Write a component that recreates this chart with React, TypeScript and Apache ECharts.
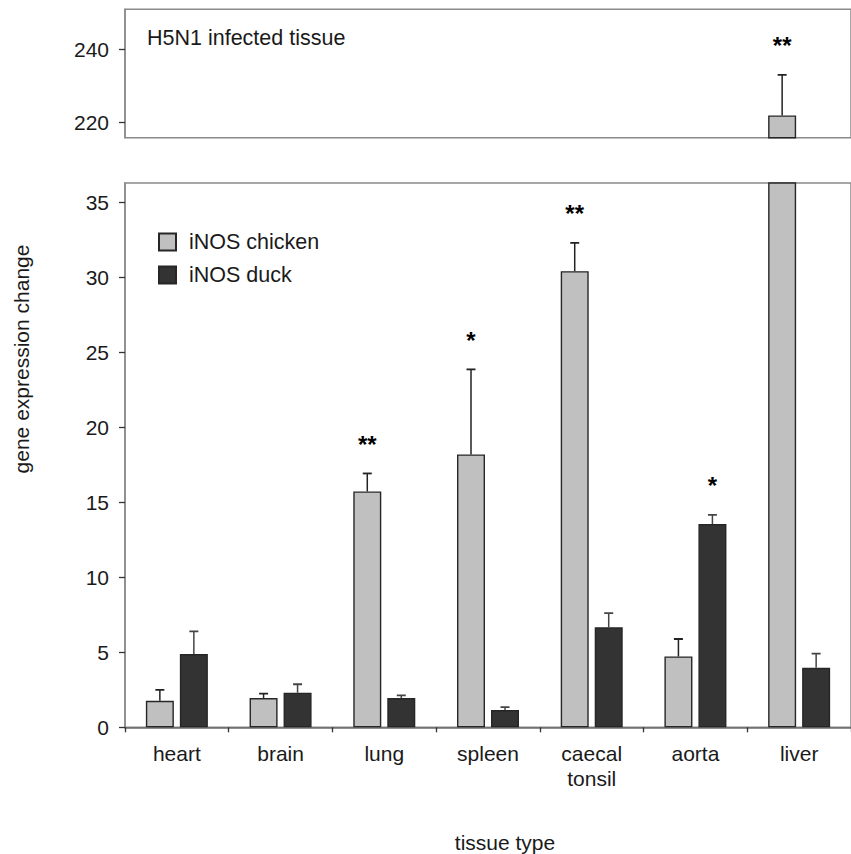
import React, { useEffect, useRef } from 'react';
import * as echarts from 'echarts';

const categories = ['heart', 'brain', 'lung', 'spleen', 'caecal\ntonsil', 'aorta', 'liver'];
const chickenMean = [1.77, 1.95, 15.73, 18.2, 30.42, 4.73, 221.9];
const chickenErrTop = [2.49, 2.24, 16.93, 23.87, 32.31, 5.89, 233.0];
const duckMean = [4.89, 2.31, 1.95, 1.15, 6.67, 13.55, 3.97];
const duckErrTop = [6.4, 2.87, 2.13, 1.35, 7.62, 14.17, 4.91];
const chickenSig = ['', '', '**', '*', '**', '', '**'];
const duckSig = ['', '', '', '', '', '*', ''];
const lowerTicks = [0, 5, 10, 15, 20, 25, 30, 35];
const upperTicks = [220, 240];

const FONT = 'Arial, "Liberation Sans", sans-serif';
const BAR_W = 28;
const BAR_GAP = 6;
const TEXT = '#1a1a1a';
const FRAME = '#8a8a8a';

function errSeries(grid: number, means: number[], tops: number[], sig: string[], offset: number, color: string) {
  return {
    type: 'custom',
    xAxisIndex: grid,
    yAxisIndex: grid,
    clip: true,
    z: 5,
    data: means.map((m, i) => [i, m, tops[i]]),
    renderItem: (params: any, api: any) => {
      const cs = params.coordSys;
      const i = api.value(0);
      const base = api.coord([i, api.value(1)]);
      const tp = api.coord([i, api.value(2)]);
      if (tp[1] < cs.y || tp[1] > cs.y + cs.height) return null;
      const x = base[0] + offset;
      const y1 = Math.min(base[1], cs.y + cs.height);
      const children: any[] = [
        { type: 'line', shape: { x1: x, y1, x2: x, y2: tp[1] }, style: { stroke: color, lineWidth: 1.5 } },
        { type: 'line', shape: { x1: x - 4.5, y1: tp[1], x2: x + 4.5, y2: tp[1] }, style: { stroke: color, lineWidth: 1.8 } },
      ];
      const s = sig[params.dataIndex];
      if (s) {
        children.push({
          type: 'text',
          x,
          y: tp[1] - 29,
          style: { text: s, fill: '#000', font: `bold 24px ${FONT}`, align: 'center', verticalAlign: 'middle' },
        });
      }
      return { type: 'group', children };
    },
  };
}

function barSeries(grid: number, name: string, data: number[], color: string) {
  return {
    type: 'bar',
    name,
    xAxisIndex: grid,
    yAxisIndex: grid,
    data,
    barWidth: BAR_W,
    barGap: `${(BAR_GAP / BAR_W) * 100}%`,
    clip: true,
    itemStyle: { color, borderColor: '#262626', borderWidth: 1.4 },
  };
}

export default function App() {
  const ref = useRef<HTMLDivElement>(null);
  useEffect(() => {
    document.body.style.margin = '0';
    const chart = echarts.init(ref.current!, undefined, { renderer: 'svg' });
    const off = (BAR_W + BAR_GAP) / 2;
    const yLabel = { fontSize: 21, color: TEXT, fontFamily: FONT, margin: 16 };
    const yTick = { show: true, length: 6, lineStyle: { color: '#333', width: 1.3 } };
    const axisLine = { show: true, lineStyle: { color: FRAME, width: 1.5 } };
    const series: any[] = [];
    [0, 1].forEach((g) => {
      series.push(barSeries(g, 'iNOS chicken', chickenMean, '#c0c0c0'));
      series.push(barSeries(g, 'iNOS duck', duckMean, '#333333'));
      series.push(errSeries(g, chickenMean, chickenErrTop, chickenSig, -off, '#222'));
      series.push(errSeries(g, duckMean, duckErrTop, duckSig, off, '#444'));
    });
    chart.setOption({
      animation: false,
      backgroundColor: '#fff',
      textStyle: { fontFamily: FONT },
      grid: [
        { left: 125, top: 9.3, width: 735, height: 128.4, show: true, borderColor: FRAME, borderWidth: 1.5, backgroundColor: 'transparent' },
        { left: 125, top: 183, width: 735, height: 544.3, show: true, borderColor: FRAME, borderWidth: 1.5, backgroundColor: 'transparent' },
      ],
      xAxis: [
        { type: 'category', gridIndex: 0, data: categories, show: false },
        {
          type: 'category',
          gridIndex: 1,
          data: categories,
          axisLine: { show: true, lineStyle: { color: '#6a6a6a', width: 1.5 } },
          axisTick: { show: true, alignWithLabel: false, length: 5, lineStyle: { color: '#333', width: 1.3 } },
          axisLabel: { fontSize: 21, lineHeight: 25, color: TEXT, fontFamily: FONT, margin: 14, interval: 0 },
          splitLine: { show: false },
        },
      ],
      yAxis: [
        {
          type: 'value',
          gridIndex: 0,
          min: 215.8,
          max: 251,
          axisLine,
          axisTick: { ...yTick, customValues: upperTicks },
          axisLabel: { ...yLabel, customValues: upperTicks },
          splitLine: { show: false },
        },
        {
          type: 'value',
          gridIndex: 1,
          min: 0,
          max: 36.3,
          axisLine,
          axisTick: { ...yTick, customValues: lowerTicks },
          axisLabel: { ...yLabel, customValues: lowerTicks },
          splitLine: { show: false },
        },
      ],
      legend: {
        data: ['iNOS chicken', 'iNOS duck'],
        orient: 'vertical',
        left: 158,
        top: 231,
        padding: 0,
        icon: 'rect',
        itemWidth: 17,
        itemHeight: 17,
        itemGap: 11,
        selectedMode: false,
        textStyle: { fontSize: 21.5, lineHeight: 22, color: TEXT, fontFamily: FONT, padding: [0, 0, 0, 8] },
      },
      graphic: [
        {
          type: 'text',
          x: 147,
          y: 38,
          style: { text: 'H5N1 infected tissue', font: `21.5px ${FONT}`, fill: TEXT, align: 'left', verticalAlign: 'middle' },
        },
        {
          type: 'text',
          x: 505,
          y: 842,
          style: { text: 'tissue type', font: `21px ${FONT}`, fill: TEXT, align: 'center', verticalAlign: 'middle' },
        },
        {
          type: 'text',
          x: 21,
          y: 359,
          rotation: Math.PI / 2,
          style: { text: 'gene expression change', font: `21px ${FONT}`, fill: TEXT, align: 'center', verticalAlign: 'middle' },
        },
      ],
      series,
    });
    return () => chart.dispose();
  }, []);
  return <div ref={ref} style={{ width: 851, height: 854 }} />;
}
